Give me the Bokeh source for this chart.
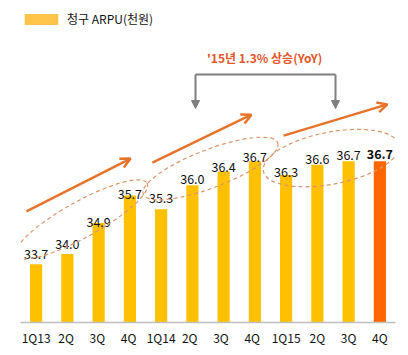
import math
from bokeh.plotting import figure
from bokeh.models import (FactorRange, Range1d, ColumnDataSource, Arrow, OpenHead,
                          NormalHead, Label, Legend, LegendItem)
from bokeh.core.properties import value
from bokeh.embed import file_html
from bokeh.resources import INLINE

# ---- data ----
quarters = ["1Q13", "2Q ", "3Q ", "4Q ", "1Q14", "2Q  ", "3Q  ", "4Q  ",
            "1Q15", "2Q", "3Q", "4Q"]
tick_labels = ["1Q13", "2Q", "3Q", "4Q", "1Q14", "2Q", "3Q", "4Q",
               "1Q15", "2Q", "3Q", "4Q"]
arpu = [33.7, 34.0, 34.9, 35.7, 35.3, 36.0, 36.4, 36.7, 36.3, 36.6, 36.7, 36.7]
series_name = "청구 ARPU(천원)"
note_text = "'15년 1.3% 상승(YoY)"

# ---- style ----
FONT = "Noto Sans CJK KR"
BAR = "#FFC000"
HIGHLIGHT = "#FF6600"
LEGEND_COLOR = "#FFC54A"
ARROW = "#E8732A"
DASH = "#D9966A"
GRAY = "#7F7F7F"
NOTE = "#E4562B"
TEXT = "#111111"
label_gaps = [10, 10, 1, 2, 11, 6, 5, 4, 3, 6, 6, 7]

n = len(arpu)
colors = [HIGHLIGHT if i == n - 1 else BAR for i in range(n)]
styles = ["bold" if i == n - 1 else "normal" for i in range(n)]
src = ColumnDataSource(dict(q=quarters, v=arpu, c=colors))

p = figure(width=408, height=355, x_range=FactorRange(*quarters),
           y_range=Range1d(32, 41.39), output_backend="svg",
           toolbar_location=None, min_border_left=20, min_border_right=13,
           min_border_top=0, min_border_bottom=33)
p.outline_line_color = None
p.grid.visible = False
p.yaxis.visible = False
p.background_fill_color = "white"

bars = p.vbar(x="q", top="v", bottom=32, width=0.39, fill_color="c",
              line_color=None, source=src)

# value labels
for i in range(n):
    p.text(x=[quarters[i]], y=[arpu[i]], text=[f"{arpu[i]:.1f}"],
           text_align="center", text_baseline="alphabetic",
           y_offset=-label_gaps[i], text_font=value(FONT),
           text_font_size="12.5px", text_color=TEXT,
           text_font_style=styles[i])

# x axis
ax = p.xaxis[0]
ax.major_label_overrides = {q: t for q, t in zip(quarters, tick_labels)}
ax.axis_line_color = "#BFBFBF"
ax.axis_line_width = 1.5
ax.major_tick_line_color = None
ax.minor_tick_line_color = None
ax.major_label_standoff = 0
ax.major_label_text_font = FONT
ax.major_label_text_font_size = "12px"
ax.major_label_text_color = TEXT

# dashed ellipses around each year
lifts = [0.43, 0.39, 0.22]
ell_w = [150, 144, 138]
ell_h = [36, 38, 52]
ell_a = [29, 21, 11]
for k in range(3):
    grp = arpu[4 * k:4 * k + 4]
    cx = 4 * k + 2.0 + [-0.05, 0.08, -0.06][k]
    cy = sum(grp) / 4 + lifts[k]
    p.ellipse(x=[cx], y=[cy], width=ell_w[k], height=ell_h[k],
              angle=math.radians(ell_a[k]), width_units="screen",
              height_units="screen", fill_alpha=0, line_color=DASH,
              line_width=1.2, line_dash="4 3")

# trend arrows
arrows = [((0.19, 35.24), (3.52, 36.78)),
          ((4.22, 36.66), (7.39, 38.06)),
          ((8.42, 37.45), (11.74, 38.36))]
for (x0, y0), (x1, y1) in arrows:
    p.add_layout(Arrow(x_start=x0, y_start=y0, x_end=x1, y_end=y1,
                       line_color=ARROW, line_width=2.5,
                       end=OpenHead(size=10, line_color=ARROW, line_width=2.5)))

# gray bracket
bx0, bx1, by_top, by_tip = 5.6, 10.08, 39.23, 38.24
p.line(x=[bx0, bx1], y=[by_top, by_top], line_color=GRAY, line_width=2)
for bx in (bx0, bx1):
    p.add_layout(Arrow(x_start=bx, y_start=by_top, x_end=bx, y_end=by_tip,
                       line_color=GRAY, line_width=2,
                       end=NormalHead(size=8, fill_color=GRAY, line_color=GRAY)))

p.add_layout(Label(x=7.81, y=39.73, text=note_text, text_align="center",
                   text_baseline="middle", text_font=FONT,
                   text_font_size="12px", text_font_style="bold",
                   text_color=NOTE))

# legend (zero-height swatch renderer so only the legend shows it)
dummy = p.vbar(x=[quarters[0]], top=[32], bottom=32, width=0.4,
               fill_color=LEGEND_COLOR, line_color=None)
legend = Legend(items=[LegendItem(label=series_name, renderers=[dummy])],
                location=(0, 295), glyph_width=42, glyph_height=14,
                label_height=17, label_standoff=5, padding=0, margin=0,
                spacing=0, border_line_alpha=0, background_fill_alpha=0,
                label_text_font=FONT, label_text_font_size="12px",
                label_text_color=TEXT)
p.add_layout(legend)

open("out.html", "w").write(file_html(p, INLINE))
